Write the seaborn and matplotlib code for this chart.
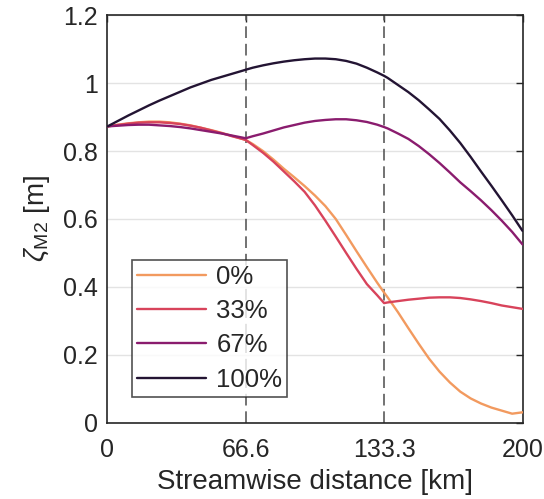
import pandas as pd
import matplotlib
matplotlib.use("Agg")
import matplotlib.pyplot as plt
import seaborn as sns

distance_km = [0, 5, 10, 15, 20, 25, 30, 35, 40, 45, 50, 55, 60, 65, 66.6,
               70, 75, 80, 85, 90, 95, 100, 105, 110, 115, 120, 125, 130, 133.3,
               135, 140, 145, 150, 155, 160, 165, 170, 175, 180, 185, 190, 195, 200]

# tidal amplitude zeta_M2 [m] per case
zeta_0 = [0.873, 0.878, 0.882, 0.885, 0.887, 0.887, 0.885, 0.881, 0.876, 0.869,
          0.862, 0.854, 0.845, 0.836, 0.833,
          0.821, 0.800, 0.775, 0.748, 0.723, 0.697, 0.669, 0.638, 0.600, 0.553,
          0.505, 0.458, 0.412, 0.383,
          0.369, 0.325, 0.278, 0.232, 0.188, 0.150, 0.118, 0.091, 0.071, 0.056,
          0.044, 0.035, 0.026, 0.030]
zeta_33 = [0.873, 0.877, 0.881, 0.884, 0.885, 0.885, 0.883, 0.880, 0.875, 0.869,
           0.861, 0.853, 0.844, 0.836, 0.833,
           0.818, 0.795, 0.769, 0.740, 0.711, 0.680, 0.640, 0.595, 0.548, 0.500,
           0.453, 0.408, 0.375, 0.352,
           0.354, 0.358, 0.362, 0.365, 0.368, 0.369, 0.369, 0.367, 0.363, 0.358,
           0.352, 0.345, 0.340, 0.335]
zeta_67 = [0.873, 0.875, 0.877, 0.878, 0.878, 0.876, 0.874, 0.871, 0.867, 0.862,
           0.857, 0.852, 0.846, 0.840, 0.838,
           0.844, 0.852, 0.861, 0.870, 0.877, 0.884, 0.889, 0.892, 0.894, 0.894,
           0.891, 0.886, 0.878, 0.871,
           0.867, 0.852, 0.836, 0.815, 0.791, 0.765, 0.737, 0.708, 0.682, 0.655,
           0.626, 0.595, 0.562, 0.525]
zeta_100 = [0.873, 0.889, 0.905, 0.920, 0.935, 0.949, 0.962, 0.975, 0.988, 0.999,
            1.010, 1.019, 1.028, 1.037, 1.040,
            1.046, 1.053, 1.059, 1.064, 1.068, 1.071, 1.073, 1.073, 1.071, 1.066,
            1.058, 1.046, 1.032, 1.022,
            1.016, 0.995, 0.974, 0.950, 0.923, 0.895, 0.861, 0.824, 0.783, 0.740,
            0.698, 0.655, 0.611, 0.565]

cases = ["0%", "33%", "67%", "100%"]
case_colors = ["#f29a5f", "#d8435b", "#8a1c6e", "#231433"]
section_edges = [66.6, 133.3]
x_ticks = [0, 66.6, 133.3, 200]
x_tick_labels = ["0", "66.6", "133.3", "200"]
y_ticks = [0, 0.2, 0.4, 0.6, 0.8, 1.0, 1.2]
y_tick_labels = ["0", "0.2", "0.4", "0.6", "0.8", "1", "1.2"]

frames = []
for name, vals in zip(cases, [zeta_0, zeta_33, zeta_67, zeta_100]):
    frames.append(pd.DataFrame({"distance": distance_km, "zeta": vals, "case": name}))
df = pd.concat(frames, ignore_index=True)

sns.set_theme(style="white")
plt.rcParams["font.family"] = ["Liberation Sans", "DejaVu Sans"]
plt.rcParams["mathtext.fontset"] = "custom"
plt.rcParams["mathtext.rm"] = "Liberation Sans"
plt.rcParams["mathtext.it"] = "Liberation Sans:italic"
text_col = "#262626"

fig = plt.figure(figsize=(5.44, 4.99), dpi=100)
ax = fig.add_axes([0.1976, 0.1533, 0.7629, 0.8157])

ax.grid(axis="y", color="#e3e3e3", linewidth=1.0)
ax.set_axisbelow(True)
for xe in section_edges:
    ax.axvline(xe, color="#5a5a5a", linewidth=1.2, linestyle=(0, (7, 3.5)), zorder=1)

sns.lineplot(data=df, x="distance", y="zeta", hue="case", hue_order=cases,
             palette=dict(zip(cases, case_colors)), linewidth=1.7, sort=False,
             ax=ax, zorder=3)

ax.set_xlim(0, 200)
ax.set_ylim(0, 1.2)
ax.set_xticks(x_ticks)
ax.set_xticklabels(x_tick_labels)
ax.set_yticks(y_ticks)
ax.set_yticklabels(y_tick_labels)
ax.tick_params(direction="in", length=5, width=1.0, colors=text_col,
               labelsize=18, top=True, right=True)
ax.tick_params(axis="x", pad=11)
ax.tick_params(axis="y", pad=7)
for s in ax.spines.values():
    s.set_color(text_col)
    s.set_linewidth(1.2)
    s.set_visible(True)

ax.set_xlabel("Streamwise distance [km]", fontsize=20, color=text_col, labelpad=5)
ax.set_ylabel(r"$\zeta_{\mathrm{M2}}$ [m]", fontsize=20, color=text_col, labelpad=8)

handles, labels = ax.get_legend_handles_labels()
leg = ax.legend(handles, labels, loc="lower left", bbox_to_anchor=(0.058, 0.063),
                borderaxespad=0, fontsize=18.5, frameon=True, fancybox=False,
                handlelength=2.7, handletextpad=0.4, labelspacing=0.4,
                borderpad=0.2)
leg.get_frame().set_edgecolor(text_col)
leg.get_frame().set_linewidth(1.2)
for t in leg.get_texts():
    t.set_color(text_col)

fig.savefig("out.png", dpi=100)
